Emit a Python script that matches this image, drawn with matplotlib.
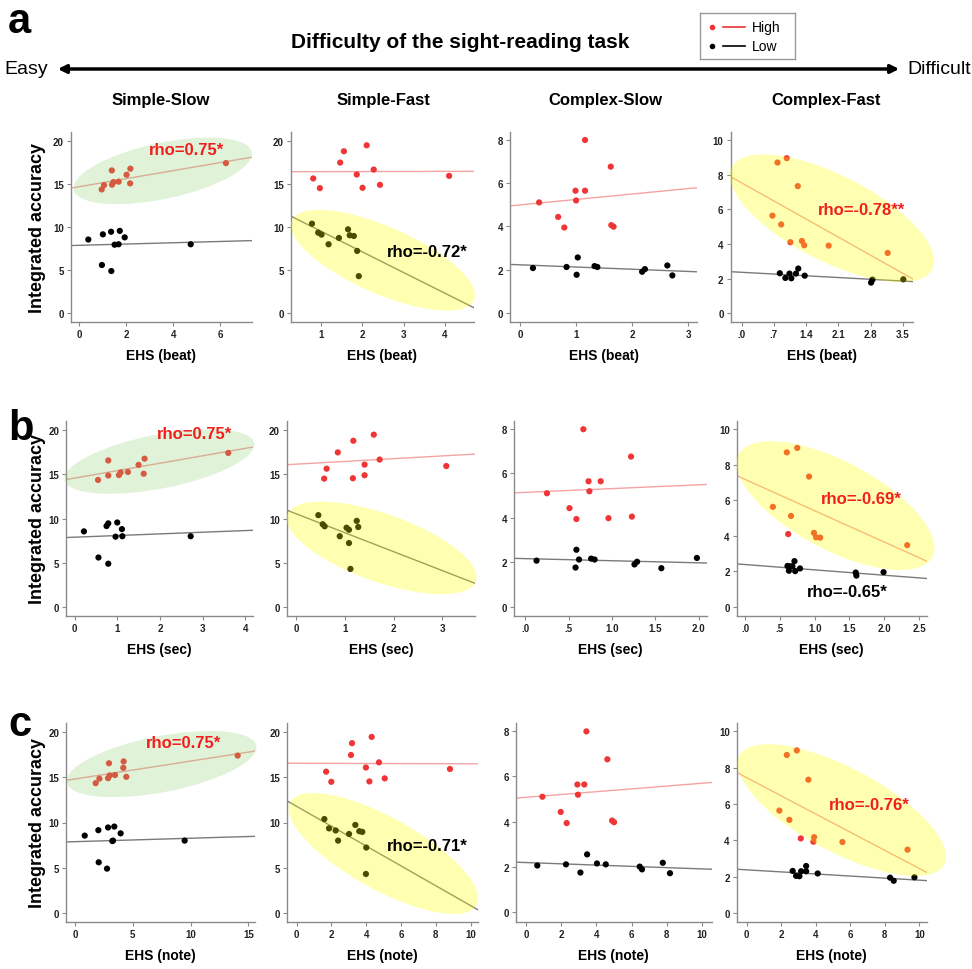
import numpy as np
import matplotlib
matplotlib.use('Agg')
import matplotlib.pyplot as plt
from matplotlib.patches import Ellipse, FancyArrowPatch
from matplotlib.transforms import IdentityTransform

plt.rcParams['font.family'] = ['Liberation Sans', 'DejaVu Sans']
NARROW = ['Liberation Sans Narrow', 'Liberation Sans', 'DejaVu Sans']

W, H = 972, 970
fig = plt.figure(figsize=(W / 100, H / 100), dpi=100)

conditions = ['Simple-Slow', 'Simple-Fast', 'Complex-Slow', 'Complex-Fast']
cond_keys = ['ss', 'sf', 'cs', 'cf']
measures = ['beat', 'sec', 'note']

# ---------------- integrated accuracy (same participants in every row) ----------
acc_ss_high = [14.35, 14.85, 16.55, 14.9, 15.2, 15.25, 16.05, 16.75, 15.05, 17.4]
acc_ss_low = [8.55, 9.15, 9.45, 9.55, 8.8, 7.95, 8.0, 5.6, 4.9, 8.0]
acc_sf_high = [15.62, 14.5, 17.46, 18.77, 16.08, 14.54, 19.46, 16.65, 14.88, 15.92]
acc_sf_low = [10.38, 9.35, 9.12, 8.0, 8.73, 9.73, 9.04, 8.96, 7.23, 4.31]
acc_cs_high = [5.10, 4.43, 3.94, 5.64, 5.19, 7.98, 5.64, 6.75, 4.05, 3.98]
acc_cs_low = [2.07, 2.12, 1.76, 2.56, 2.16, 2.12, 1.90, 2.02, 2.19, 1.73]
acc_cf_high = [8.69, 8.94, 7.33, 5.63, 5.12, 4.10, 4.17, 3.92, 3.90, 3.48]
acc_cf_low = [2.31, 2.04, 2.29, 2.02, 2.29, 2.58, 2.17, 1.77, 1.94, 1.96]

# ---------------- EHS (beat) ----------------
beat_ss_high = [0.95, 1.05, 1.38, 1.39, 1.45, 1.67, 2.01, 2.17, 2.16, 6.24]
beat_ss_low = [0.38, 1.0, 1.35, 1.72, 1.93, 1.50, 1.67, 0.96, 1.36, 4.74]
beat_sf_high = [0.82, 0.98, 1.47, 1.56, 1.87, 2.01, 2.11, 2.28, 2.43, 4.10]
beat_sf_low = [0.79, 0.94, 1.02, 1.19, 1.44, 1.66, 1.70, 1.80, 1.88, 1.92]
beat_cs_high = [0.34, 0.68, 0.79, 0.99, 1.0, 1.16, 1.16, 1.62, 1.63, 1.67]
beat_cs_low = [0.23, 0.83, 1.01, 1.03, 1.33, 1.38, 2.18, 2.23, 2.63, 2.72]
beat_cf_high = [0.78, 0.98, 1.22, 0.67, 0.86, 1.06, 1.31, 1.36, 1.89, 3.17]
beat_cf_low = [0.83, 0.95, 1.04, 1.08, 1.18, 1.23, 1.37, 2.81, 2.84, 3.51]

# ---------------- EHS (sec) ----------------
sec_ss_high = [0.55, 0.79, 0.79, 1.04, 1.08, 1.25, 1.50, 1.64, 1.62, 3.6]
sec_ss_low = [0.22, 0.75, 0.79, 1.0, 1.11, 0.96, 1.12, 0.56, 0.79, 2.72]
sec_sf_high = [0.62, 0.57, 0.85, 1.17, 1.40, 1.16, 1.59, 1.71, 1.40, 3.08]
sec_sf_low = [0.45, 0.54, 0.58, 0.89, 1.08, 1.24, 1.27, 1.03, 1.08, 1.11]
sec_cs_high = [0.25, 0.51, 0.59, 0.73, 0.74, 0.67, 0.87, 1.22, 1.23, 0.96]
sec_cs_low = [0.13, 0.62, 0.58, 0.59, 0.76, 0.80, 1.26, 1.29, 1.98, 1.57]
sec_cf_high = [0.60, 0.75, 0.92, 0.40, 0.66, 0.62, 0.99, 1.02, 1.08, 2.33]
sec_cf_low = [0.61, 0.63, 0.65, 0.72, 0.68, 0.71, 0.79, 1.60, 1.59, 1.99]

# ---------------- EHS (note) ----------------
note_ss_high = [1.79, 2.11, 2.94, 2.86, 3.0, 3.46, 4.18, 4.21, 4.44, 14.08]
note_ss_low = [0.84, 2.02, 2.86, 3.4, 3.95, 3.23, 3.29, 2.05, 2.77, 9.49]
note_sf_high = [1.69, 1.99, 3.12, 3.18, 3.98, 4.18, 4.31, 4.73, 5.06, 8.81]
note_sf_low = [1.59, 1.86, 2.24, 2.38, 3.01, 3.37, 3.6, 3.77, 4.0, 3.98]
note_cs_high = [0.93, 1.97, 2.31, 2.92, 2.95, 3.43, 3.31, 4.62, 4.89, 5.0]
note_cs_low = [0.64, 2.27, 3.09, 3.47, 4.03, 4.53, 6.59, 6.46, 7.77, 8.18]
note_cf_high = [2.32, 2.90, 3.57, 1.89, 2.47, 3.13, 3.90, 3.86, 5.54, 9.31]
note_cf_low = [2.66, 2.86, 3.15, 3.05, 3.44, 3.44, 4.11, 8.51, 8.30, 9.71]

# ---------------- fitted lines (intercept, slope) ----------
fit_beat_high = [(14.67, 0.465), (16.4, 0.01), (4.985, 0.251), (7.52, -1.49)]
fit_beat_low = [(7.88, 0.074), (11.93, -2.40), (2.22, -0.102), (2.365, -0.144)]
fit_sec_high = [(14.56, 0.838), (16.13, 0.31), (5.14, 0.17), (7.17, -1.758)]
fit_sec_low = [(7.89, 0.187), (10.52, -2.134), (2.16, -0.094), (2.39, -0.30)]
fit_note_high = [(14.81, 0.198), (16.55, -0.006), (5.075, 0.062), (7.44, -0.50)]
fit_note_low = [(7.88, 0.038), (11.78, -1.097), (2.20, -0.028), (2.37, -0.057)]

# ---------------- correlation labels ----------------
rho_labels = {
    ('beat', 0): [('rho=0.75*', 'red', 186.5, 150.7)],
    ('beat', 1): [('rho=-0.72*', 'black', 427, 252.7)],
    ('beat', 3): [('rho=-0.78**', 'red', 861, 210.7)],
    ('sec', 0): [('rho=0.75*', 'red', 194, 435)],
    ('sec', 3): [('rho=-0.69*', 'red', 861, 500), ('rho=-0.65*', 'black', 847, 592.7)],
    ('note', 0): [('rho=0.75*', 'red', 183.5, 743)],
    ('note', 1): [('rho=-0.71*', 'black', 427, 846.7)],
    ('note', 3): [('rho=-0.76*', 'red', 869.5, 805)],
}

data = {}
for m in measures:
    for ck in cond_keys:
        data[(m, ck)] = (globals()[f'{m}_{ck}_high'], globals()[f'{m}_{ck}_low'])
acc = {ck: (globals()[f'acc_{ck}_high'], globals()[f'acc_{ck}_low']) for ck in cond_keys}
fits = {m: (globals()[f'fit_{m}_high'], globals()[f'fit_{m}_low']) for m in measures}

# ---------------- layout (pixels) ----------------
row_y = [(133, 323), (422, 617), (724, 923)]
col_x = [
    [(70.7, 252), (290.7, 474), (510, 697), (730.5, 913)],
    [(66, 253), (286.7, 475), (514, 707.3), (736.7, 926.7)],
    [(66, 255), (287.3, 478.3), (516, 711.7), (736.7, 926.7)],
]
xlims = [
    [(-0.37, 7.35), (0.276, 4.70), (-0.18, 3.16), (-0.24, 3.72)],
    [(-0.2, 4.18), (-0.2, 3.67), (-0.13, 2.1), (-0.12, 2.61)],
    [(-0.78, 15.58), (-0.54, 10.44), (-0.57, 10.55), (-0.58, 10.42)],
]
ylims = [(-1, 21), (-1, 21), (-0.42, 8.35), (-0.5, 10.45)]
yticks = [[0, 5, 10, 15, 20], [0, 5, 10, 15, 20], [0, 2, 4, 6, 8], [0, 2, 4, 6, 8, 10]]
xticks = [
    [([0, 2, 4, 6], None), ([1, 2, 3, 4], None), ([0, 1, 2, 3], None),
     ([0, 0.7, 1.4, 2.1, 2.8, 3.5], ['.0', '.7', '1.4', '2.1', '2.8', '3.5'])],
    [([0, 1, 2, 3, 4], None), ([0, 1, 2, 3], None),
     ([0, 0.5, 1, 1.5, 2], ['.0', '.5', '1.0', '1.5', '2.0']),
     ([0, 0.5, 1, 1.5, 2, 2.5], ['.0', '.5', '1.0', '1.5', '2.0', '2.5'])],
    [([0, 5, 10, 15], None), ([0, 2, 4, 6, 8, 10], None),
     ([0, 2, 4, 6, 8, 10], None), ([0, 2, 4, 6, 8, 10], None)],
]
# highlight ellipses: (row, col): center (data), width px, height px, angle, colour
ellipses = {
    (0, 0): ((3.55, 16.5), 182, 56, 12, 'green'),
    (1, 0): ((1.99, 16.43), 193, 54, 11, 'green'),
    (2, 0): ((7.5, 16.46), 193, 56, 11, 'green'),
    (0, 1): ((2.50, 6.15), 199, 67, -23.7, 'yellow'),
    (1, 1): ((1.75, 6.68), 200, 68, -19.5, 'yellow'),
    (2, 1): ((4.98, 6.57), 213, 72, -29, 'yellow'),
    (0, 3): ((1.96, 5.48), 225, 86, -27, 'yellow'),
    (1, 3): ((1.30, 5.70), 219, 88, -28, 'yellow'),
    (2, 3): ((5.50, 5.66), 232, 84, -28, 'yellow'),
}
ell_col = {'green': ((0.52, 0.80, 0.40), 0.25), 'yellow': ((1.0, 1.0, 0.0), 0.30)}

RED = '#ef3535'
HIGH_LINE = '#f4a3a3'
LOW_LINE = '#7a7a7a'
SPINE = '#8a8a8a'

for r, m in enumerate(measures):
    y0, y1 = row_y[r]
    for c, ck in enumerate(cond_keys):
        x0, x1 = col_x[r][c]
        ax = fig.add_axes([x0 / W, 1 - y1 / H, (x1 - x0) / W, (y1 - y0) / H])
        ax.set_xlim(*xlims[r][c])
        ax.set_ylim(*ylims[c])
        xs_h, xs_l = data[(m, ck)]
        ya_h, ya_l = acc[ck]
        fh, fl = fits[m][0][c], fits[m][1][c]
        xx = np.array(xlims[r][c])
        ax.plot(xx, fh[0] + fh[1] * xx, color=HIGH_LINE, lw=1.0, zorder=2)
        ax.plot(xx, fl[0] + fl[1] * xx, color=LOW_LINE, lw=1.0, zorder=2)
        ax.scatter(xs_h, ya_h, s=20, color=RED, edgecolors='none', zorder=3)
        ax.scatter(xs_l, ya_l, s=20, color='black', edgecolors='none', zorder=3)
        for side in ['top', 'right']:
            ax.spines[side].set_visible(False)
        for side in ['left', 'bottom']:
            ax.spines[side].set_color(SPINE)
            ax.spines[side].set_linewidth(1.0)
        ax.set_yticks(yticks[c])
        tk, tl = xticks[r][c]
        ax.set_xticks(tk)
        if tl is not None:
            ax.set_xticklabels(tl)
        ax.tick_params(direction='out', length=3, width=0.8, color=SPINE,
                       labelsize=7, pad=2, labelcolor='#222222')
        for lab in ax.get_xticklabels() + ax.get_yticklabels():
            lab.set_fontweight('bold')
        ax.patch.set_alpha(0)
        # x label
        fig.text((x0 + x1) / 2 / W, 1 - (y1 + 33) / H, f'EHS ({m})',
                 ha='center', va='center', fontsize=10, fontweight='bold')
        if (r, c) in ellipses:
            (cx, cy), ew, eh, ang, kind = ellipses[(r, c)]
            px, py = ax.transData.transform((cx, cy))
            colr, alp = ell_col[kind]
            e = Ellipse((px, py), ew, eh, angle=ang, transform=IdentityTransform(),
                        facecolor=colr, alpha=alp, edgecolor='none', zorder=1)
            fig.add_artist(e)
        for (txt, colr, tx, ty) in rho_labels.get((m, c), []):
            fig.text(tx / W, 1 - ty / H, txt, ha='center', va='center',
                     fontsize=12, fontweight='bold',
                     color=('#f01e1e' if colr == 'red' else 'black'), zorder=5)
    # y label
    fig.text(37 / W, 1 - (y0 + y1) / 2 / H, 'Integrated accuracy', rotation=90,
             ha='center', va='center', fontsize=13, fontweight='bold')

# panel letters
for lt, yb in zip(['a', 'b', 'c'], [33, 440, 736]):
    fig.text(8 / W, 1 - yb / H, lt, ha='left', va='baseline', fontsize=30,
             fontweight='bold')

# header
fig.text(460 / W, 1 - 42 / H, 'Difficulty of the sight-reading task', ha='center',
         va='center', fontsize=15, fontweight='bold', family=NARROW)
arrow = FancyArrowPatch((55 / W, 1 - 70 / H), (902 / W, 1 - 70 / H),
                        transform=fig.transFigure, arrowstyle='<|-|>',
                        mutation_scale=12, lw=2.5, color='black')
fig.add_artist(arrow)
fig.text(4 / W, 1 - 70 / H, 'Easy', ha='left', va='center', fontsize=14, family=NARROW)
fig.text(907 / W, 1 - 70 / H, 'Difficult', ha='left', va='center', fontsize=14,
         family=NARROW)
col_centers = [161, 383, 605, 826]
for name, cxp in zip(conditions, col_centers):
    fig.text(cxp / W, 1 - 100 / H, name, ha='center', va='center', fontsize=12,
             fontweight='bold', family=NARROW)

# legend box
lax = fig.add_axes([700 / W, 1 - 60 / H, 95 / W, 46 / H])
lax.set_xlim(0, 95)
lax.set_ylim(46, 0)
lax.set_xticks([])
lax.set_yticks([])
for sp in lax.spines.values():
    sp.set_color('#9a9a9a')
    sp.set_linewidth(1.0)
lax.plot([12], [14], 'o', color=RED, ms=3)
lax.plot([23, 45], [14, 14], color=RED, lw=1.2)
lax.text(52, 14, 'High', va='center', ha='left', fontsize=10, family=NARROW)
lax.plot([12], [33], 'o', color='black', ms=3)
lax.plot([23, 45], [33, 33], color='black', lw=1.2)
lax.text(52, 33, 'Low', va='center', ha='left', fontsize=10, family=NARROW)

fig.savefig('out.png', dpi=100)
